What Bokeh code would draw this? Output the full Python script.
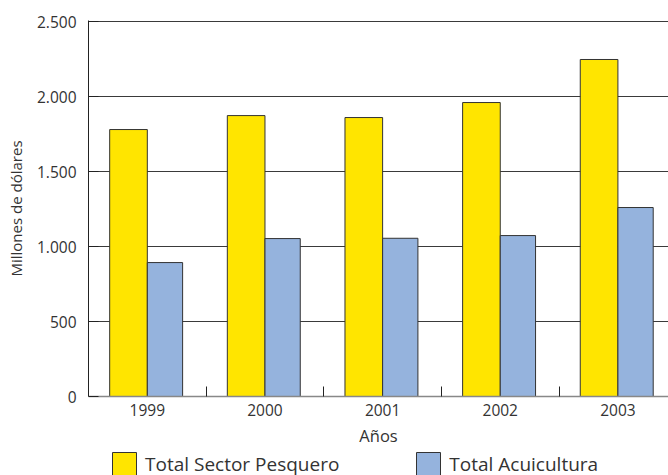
from bokeh.plotting import figure
from bokeh.layouts import column
from bokeh.models import Range1d, FixedTicker, Legend, LegendItem, ColumnDataSource
from bokeh.embed import file_html
from bokeh.resources import INLINE

years = ["1999", "2000", "2001", "2002", "2003"]
pesquero = [1780, 1873, 1860, 1960, 2247]
acuicultura = [893, 1053, 1055, 1073, 1260]
y_ticks = [0, 500, 1000, 1500, 2000, 2500]
y_labels = ["0", "500", "1.000", "1.500", "2.000", "2.500"]
series_names = ["Total Sector Pesquero", "Total Acuicultura"]
series_colors = ["#FFE500", "#95B3DD"]

FONT = "Open Sans"
TXT = "#333333"
EDGE = "#333333"

idx = list(range(len(years)))
src = ColumnDataSource(dict(
    xp=[i + 0.34 for i in idx],
    xa=[i + 0.65 for i in idx],
    pes=pesquero,
    acu=acuicultura,
))

p = figure(width=668, height=449, output_backend="svg", toolbar_location=None,
           x_range=Range1d(0, 4.93), y_range=Range1d(0, 2507),
           min_border_left=88, min_border_right=0, min_border_top=20,
           min_border_bottom=53)
p.outline_line_color = None
p.background_fill_color = "white"

p.vbar(x="xp", top="pes", width=0.32, source=src, fill_color=series_colors[0],
       line_color=EDGE, line_width=1)
p.vbar(x="xa", top="acu", width=0.30, source=src, fill_color=series_colors[1],
       line_color=EDGE, line_width=1)

# y axis
p.yaxis.ticker = FixedTicker(ticks=y_ticks)
p.yaxis.major_label_overrides = {t: l for t, l in zip(y_ticks, y_labels)}
p.yaxis.major_tick_in = 10
p.yaxis.major_tick_out = 0
p.yaxis.minor_tick_line_color = None
p.yaxis.axis_line_color = "#222222"
p.yaxis.major_tick_line_color = "#222222"
p.yaxis.major_label_standoff = 12
p.yaxis.major_label_text_font = FONT
p.yaxis.major_label_text_font_size = "15.5px"
p.yaxis.major_label_text_color = TXT
p.yaxis.axis_label = "Millones de dólares"
p.yaxis.axis_label_text_font = FONT
p.yaxis.axis_label_text_font_size = "15px"
p.yaxis.axis_label_text_font_style = "normal"
p.yaxis.axis_label_text_color = TXT
p.yaxis.axis_label_standoff = 8

# x axis
centers = [i + 0.5 for i in idx]
bounds = [i + 1 for i in idx[:-1]]
p.xaxis.ticker = FixedTicker(ticks=centers, minor_ticks=bounds)
p.xaxis.major_label_overrides = {c: y for c, y in zip(centers, years)}
p.xaxis.major_tick_in = 0
p.xaxis.major_tick_out = 0
p.xaxis.minor_tick_in = 10
p.xaxis.minor_tick_out = 0
p.xaxis.minor_tick_line_color = "#222222"
p.xaxis.axis_line_color = "#888888"
p.xaxis.axis_line_width = 1.5
p.xaxis.major_label_standoff = 7
p.xaxis.major_label_text_font = FONT
p.xaxis.major_label_text_font_size = "15.5px"
p.xaxis.major_label_text_color = TXT
p.xaxis.axis_label = "Años"
p.xaxis.axis_label_text_font = FONT
p.xaxis.axis_label_text_font_size = "16.5px"
p.xaxis.axis_label_text_font_style = "normal"
p.xaxis.axis_label_text_color = TXT
p.xaxis.axis_label_standoff = 5

p.xgrid.visible = False
p.ygrid.ticker = FixedTicker(ticks=y_ticks)
p.ygrid.grid_line_color = "#3a3a3a"
p.ygrid.grid_line_width = 1

# legend strip (its frame is aligned with the main plot's frame)
lg = figure(width=668, height=26, output_backend="svg", toolbar_location=None,
            x_range=Range1d(0, 1), y_range=Range1d(0, 1),
            x_axis_location=None, y_axis_location=None,
            min_border_left=0, min_border_right=0, min_border_top=0,
            min_border_bottom=0)
lg.outline_line_color = None
lg.xgrid.visible = False
lg.ygrid.visible = False
items = []
for name, col in zip(series_names, series_colors):
    r = lg.vbar(x=[-10], top=[0], width=0.1, fill_color=col, line_color=EDGE, line_width=1)
    items.append(LegendItem(label=name, renderers=[r]))
legend = Legend(items=items, orientation="horizontal", location=(21, -4),
                glyph_width=30, glyph_height=30, label_standoff=6, spacing=74,
                padding=0, margin=0, border_line_color=None,
                label_text_font=FONT, label_text_font_size="19px",
                label_text_color=TXT, background_fill_alpha=0)
lg.add_layout(legend)

layout = column(p, lg, spacing=0)
open("out.html", "w").write(file_html(layout, INLINE))
